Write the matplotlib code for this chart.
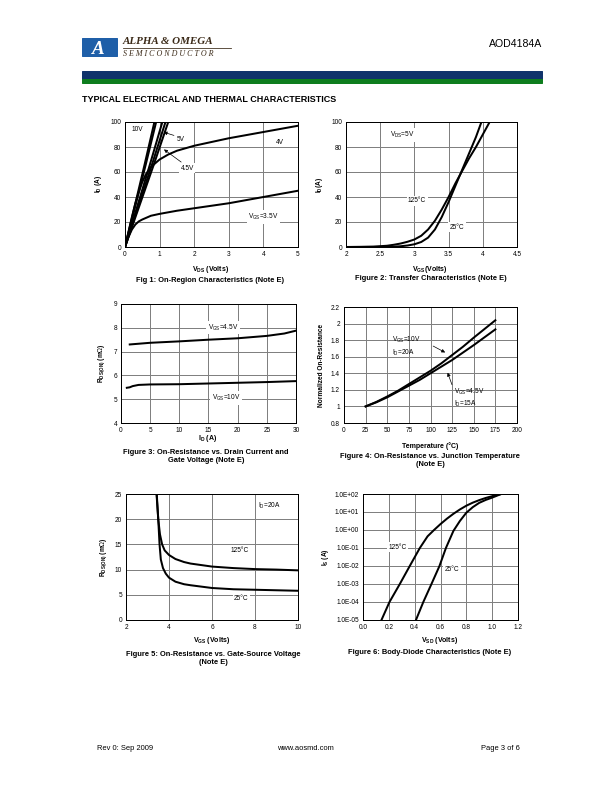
import matplotlib

matplotlib.use("Agg")
import matplotlib.pyplot as plt  # noqa: I001
from matplotlib.patches import Rectangle

plt.rcParams["font.family"] = ["Liberation Sans", "DejaVu Sans"]
plt.rcParams["mathtext.fontset"] = "custom"
plt.rcParams["mathtext.rm"] = "Liberation Sans"

W, H = 612, 792

# Fig 1: on-region characteristics
vds_steep = [0.0, 0.3, 0.6, 0.9]
id_steep = [0, 33, 66, 100]
steep_ends = [0.85, 0.90, 1.08, 1.17, 1.25]
vds_4v = [0, 0.1, 0.2, 0.3, 0.4, 0.5, 0.6, 0.75, 1.0, 1.25, 1.5, 2.0, 3.0, 4.0, 5.0]
id_4v = [0, 12, 24, 35, 44, 52, 58, 64, 70, 74, 77, 81, 87, 92, 97]
vds_35v = [0, 0.1, 0.2, 0.3, 0.4, 0.5, 0.75, 1.0, 1.5, 2.0, 3.0, 4.0, 5.0]
id_35v = [0, 8, 14, 18, 20.5, 22, 25, 26.5, 29, 31, 35, 40, 45]

# Fig 2: transfer characteristics
vgs_125 = [2.0, 2.2, 2.4, 2.6, 2.7, 2.8, 2.9, 3.0, 3.1, 3.2, 3.3, 3.4, 3.5,
           3.6, 3.7, 3.8, 3.9, 4.0, 4.1]
id_125 = [0, 0.1, 0.3, 1, 1.8, 2.8, 4.2, 6, 9, 14, 21, 30, 40, 51, 61, 71, 80, 90, 100]
vgs_25 = [2.0, 2.6, 2.7, 2.8, 2.9, 3.0, 3.1, 3.2, 3.3, 3.4, 3.5, 3.6, 3.7, 3.8, 3.9, 3.98]
id_25 = [0, 0.1, 0.3, 0.6, 1.2, 2.2, 4, 7.5, 14, 24, 36, 49, 62, 75, 88, 100]

# Fig 3: Rds(on) vs drain current
id_45 = [1.5, 5, 10, 15, 20, 25, 28, 30]
rds_45 = [7.3, 7.37, 7.43, 7.5, 7.56, 7.66, 7.76, 7.88]
id_10 = [1, 1.5, 2, 3, 5, 10, 15, 20, 25, 30]
rds_10 = [5.48, 5.5, 5.55, 5.6, 5.62, 5.63, 5.66, 5.69, 5.72, 5.76]

# Fig 4: normalized on-resistance vs temperature
temp = [25, 37.5, 50, 62.5, 75, 87.5, 100, 112.5, 125, 137.5, 150, 162.5, 175]
norm_10 = [1.0, 1.055, 1.12, 1.19, 1.27, 1.35, 1.43, 1.52, 1.62, 1.72, 1.83, 1.935, 2.04]
norm_45 = [1.0, 1.05, 1.11, 1.18, 1.25, 1.32, 1.40, 1.48, 1.56, 1.65, 1.74, 1.835, 1.93]

# Fig 5: Rds(on) vs gate-source voltage
vgs5_25 = [3.43, 3.5, 3.56, 3.62, 3.72, 3.85, 4.0, 4.3, 4.7, 5, 6, 7, 8, 9, 10]
rds5_25 = [25, 20, 15, 12, 10.3, 9.2, 8.4, 7.6, 7.1, 6.9, 6.35, 6.1, 6.0, 5.9, 5.8]
vgs5_125 = [3.42, 3.5, 3.58, 3.68, 3.8, 4.0, 4.3, 4.7, 5, 6, 7, 8, 9, 10]
rds5_125 = [25, 20, 17, 15, 13.8, 12.9, 12.1, 11.5, 11.2, 10.6, 10.3, 10.1, 10.0, 9.85]

# Fig 6: body-diode characteristics (log10 of Is)
vsd_125 = [0.143, 0.205, 0.285, 0.362, 0.44, 0.50, 0.55, 0.60, 0.65, 0.70, 0.75,
           0.80, 0.85, 0.90, 0.95, 1.00, 1.07]
logis_125 = [-5, -4, -3, -2, -1, -0.35, 0.0, 0.33, 0.63, 0.9, 1.14, 1.35, 1.52,
             1.66, 1.78, 1.88, 2.0]
vsd_25 = [0.41, 0.467, 0.53, 0.592, 0.642, 0.70, 0.75, 0.80, 0.85, 0.90, 0.95, 1.0, 1.07]
logis_25 = [-5, -4, -3, -2, -1, -0.05, 0.5, 0.96, 1.27, 1.51, 1.67, 1.8, 2.0]

LOG_TICKS = ["1.0E-05", "1.0E-04", "1.0E-03", "1.0E-02", "1.0E-01",
             "1.0E+00", "1.0E+01", "1.0E+02"]

fig = plt.figure(figsize=(W / 72, H / 72), dpi=72)


def ftext(x, y, s, **kw):
    kw.setdefault("fontsize", 7.5)
    kw.setdefault("ha", "center")
    kw.setdefault("va", "center")
    fig.text(x / W, 1 - y / H, s, **kw)


def make_axes(left, top, right, bottom, xlim, ylim, xticks, yticks,
              xlabels=None, ylabels=None, ylog=False):
    ax = fig.add_axes([left / W, 1 - bottom / H, (right - left) / W, (bottom - top) / H])
    if ylog:
        ax.set_yscale("log")
    ax.set_xlim(*xlim)
    ax.set_ylim(*ylim)
    ax.set_xticks(xticks)
    ax.set_yticks(yticks)
    ax.minorticks_off()
    if xlabels is not None:
        ax.set_xticklabels(xlabels)
    if ylabels is not None:
        ax.set_yticklabels(ylabels)
    ax.tick_params(length=0, labelsize=6.5, pad=4)
    ax.grid(True, color="#808080", linewidth=1)
    ax.set_axisbelow(True)
    for sp in ax.spines.values():
        sp.set_linewidth(1)
        sp.set_color("black")
    return ax


def label(ax, x, y, s, box=True, **kw):
    kw.setdefault("fontsize", 6.5)
    kw.setdefault("ha", "center")
    kw.setdefault("va", "center")
    bbox = dict(facecolor="white", edgecolor="none", pad=1.5) if box else None
    ax.text(x, y, s, bbox=bbox, zorder=5, **kw)


def arrow(ax, start, end):
    ax.annotate("", xy=end, xytext=start,
                arrowprops=dict(arrowstyle="-|>", color="black", lw=0.7,
                                mutation_scale=7), zorder=6)


LW = 2

# ---- header ----
fig.patches.append(Rectangle((82 / W, 1 - 56 / H), 35 / W, 18 / H,
                             transform=fig.transFigure, color="#1f5fa8"))
ftext(98, 49, "A", fontsize=19, fontstyle="italic", fontweight="bold",
      color="white", family="Liberation Serif")
ftext(123, 42, "ALPHA & OMEGA", fontsize=11, ha="left", fontweight="bold",
      fontstyle="italic", color="#3b2a18", family="Liberation Serif")
fig.add_artist(plt.Line2D([123 / W, 231 / W], [1 - 47.5 / H, 1 - 47.5 / H],
                          color="#3b2a18", lw=0.8))
ftext(123, 53.5, "S E M I C O N D U C T O R", fontsize=8, ha="left",
      fontstyle="italic", color="#3b2a18", family="Liberation Serif")
ftext(542, 44, "AOD4184A", fontsize=10.5, ha="right")
fig.patches.append(Rectangle((82 / W, 1 - 79 / H), 460 / W, 8 / H,
                             transform=fig.transFigure, color="#10336b"))
fig.patches.append(Rectangle((82 / W, 1 - 83 / H), 460 / W, 4 / H,
                             transform=fig.transFigure, color="#0e7d1e"))
ftext(82, 100, "TYPICAL ELECTRICAL AND THERMAL CHARACTERISTICS", fontsize=9,
      fontweight="bold", ha="left")

# ---- Fig 1 ----
ax1 = make_axes(125, 122, 298, 247, (0, 5), (0, 100), range(0, 6), range(0, 101, 20))
for end in steep_ends:
    scale = end / 0.9
    ax1.plot([v * scale for v in vds_steep], id_steep, color="black", lw=LW)
ax1.plot(vds_4v, id_4v, color="black", lw=LW)
ax1.plot(vds_35v, id_35v, color="black", lw=LW)
label(ax1, 0.35, 94, "10V")
label(ax1, 1.62, 86, "5V")
label(ax1, 1.8, 63, "4.5V")
label(ax1, 4.48, 84, "4V")
label(ax1, 4.0, 24, r"V$\mathregular{_{GS}}$=3.5V")
arrow(ax1, (1.47, 88.8), (1.06, 92.3))
arrow(ax1, (1.67, 67), (1.08, 79))
ax1.set_ylabel(r"I$\mathregular{_D}$ (A)", fontsize=6.5, fontweight="bold", labelpad=6)
ftext(211, 270, r"V$\mathregular{_{DS}}$ (Volts)", fontsize=7, fontweight="bold")
ftext(210, 281, "Fig 1: On-Region Characteristics (Note E)", fontweight="bold")

# ---- Fig 2 ----
ax2 = make_axes(346, 122, 517, 247, (2, 4.5), (0, 100),
                [2, 2.5, 3, 3.5, 4, 4.5], range(0, 101, 20),
                xlabels=["2", "2.5", "3", "3.5", "4", "4.5"])
ax2.plot(vgs_125, id_125, color="black", lw=LW)
ax2.plot(vgs_25, id_25, color="black", lw=LW)
label(ax2, 2.82, 89.6, r"V$\mathregular{_{DS}}$=5V")
label(ax2, 3.04, 37, "125°C")
label(ax2, 3.62, 15.7, "25°C")
ax2.set_ylabel(r"I$\mathregular{_D}$(A)", fontsize=6.5, fontweight="bold", labelpad=6)
ftext(430, 270, r"V$\mathregular{_{GS}}$(Volts)", fontsize=7, fontweight="bold")
ftext(431, 279, "Figure 2: Transfer Characteristics (Note E)", fontweight="bold")

# ---- Fig 3 ----
ax3 = make_axes(121, 304, 296, 423, (0, 30), (4, 9), range(0, 31, 5), range(4, 10))
ax3.plot(id_45, rds_45, color="black", lw=LW)
ax3.plot(id_10, rds_10, color="black", lw=LW)
label(ax3, 17.5, 8.0, r"V$\mathregular{_{GS}}$=4.5V")
label(ax3, 18, 5.05, r"V$\mathregular{_{GS}}$=10V")
ax3.set_ylabel(r"R$\mathregular{_{DS(ON)}}$ (m$\Omega$)", fontsize=6.5,
               fontweight="bold", labelpad=6)
ftext(208, 439, r"I$\mathregular{_D}$ (A)", fontsize=7, fontweight="bold")
ftext(206, 456, "Figure 3: On-Resistance vs. Drain Current and\nGate Voltage (Note E)",
      fontweight="bold", linespacing=1.2)

# ---- Fig 4 ----
ax4 = make_axes(344, 307, 517, 423, (0, 200), (0.8, 2.2), range(0, 201, 25),
                [0.8, 1.0, 1.2, 1.4, 1.6, 1.8, 2.0, 2.2],
                ylabels=["0.8", "1", "1.2", "1.4", "1.6", "1.8", "2", "2.2"])
ax4.plot(temp, norm_10, color="black", lw=LW)
ax4.plot(temp, norm_45, color="black", lw=LW)
label(ax4, 55, 1.86, "V$\\mathregular{_{GS}}$=10V\nI$\\mathregular{_D}$=20A", box=False,
      ha="left", va="top", linespacing=1.3)
label(ax4, 127, 1.24, "V$\\mathregular{_{GS}}$=4.5V\nI$\\mathregular{_D}$=15A", box=False,
      ha="left", va="top", linespacing=1.3)
arrow(ax4, (101, 1.74), (119, 1.64))
arrow(ax4, (125.6, 1.24), (119, 1.43))
ax4.set_ylabel("Normalized On-Resistance", fontsize=6.5, fontweight="bold", labelpad=6)
ftext(430, 446, "Temperature (°C)", fontsize=7, fontweight="bold")
ftext(430, 460, "Figure 4: On-Resistance vs. Junction Temperature\n(Note E)",
      fontweight="bold", linespacing=1.2)

# ---- Fig 5 ----
ax5 = make_axes(126, 494, 298, 620, (2, 10), (0, 25), range(2, 11, 2), range(0, 26, 5))
ax5.plot(vgs5_125, rds5_125, color="black", lw=LW)
ax5.plot(vgs5_25, rds5_25, color="black", lw=LW)
label(ax5, 8.69, 22.7, r"I$\mathregular{_D}$=20A")
label(ax5, 7.3, 13.7, "125°C")
label(ax5, 7.37, 4.3, "25°C")
ax5.set_ylabel(r"R$\mathregular{_{DS(ON)}}$ (m$\Omega$)", fontsize=6.5,
               fontweight="bold", labelpad=6)
ftext(212, 641, r"V$\mathregular{_{GS}}$ (Volts)", fontsize=7, fontweight="bold")
ftext(213, 658, "Figure 5: On-Resistance vs. Gate-Source Voltage\n(Note E)",
      fontweight="bold", linespacing=1.2)

# ---- Fig 6 ----
ax6 = make_axes(363, 494, 518, 620, (0, 1.2), (1e-5, 1e2),
                [0, 0.2, 0.4, 0.6, 0.8, 1.0, 1.2], [10.0 ** k for k in range(-5, 3)],
                xlabels=["0.0", "0.2", "0.4", "0.6", "0.8", "1.0", "1.2"],
                ylabels=LOG_TICKS, ylog=True)
ax6.plot(vsd_125, [10.0 ** v for v in logis_125], color="black", lw=LW)
ax6.plot(vsd_25, [10.0 ** v for v in logis_25], color="black", lw=LW)
label(ax6, 0.27, 10 ** -0.95, "125°C")
label(ax6, 0.69, 10 ** -2.2, "25°C")
ax6.set_ylabel(r"I$\mathregular{_S}$ (A)", fontsize=6.5, fontweight="bold", labelpad=4)
ftext(440, 641, r"V$\mathregular{_{SD}}$ (Volts)", fontsize=7, fontweight="bold")
ftext(430, 652, "Figure 6: Body-Diode Characteristics (Note E)", fontweight="bold")

# ---- footer ----
ftext(97, 748, "Rev 0: Sep 2009", fontsize=7.5, ha="left")
ftext(305, 748, "www.aosmd.com", fontsize=7.5)
ftext(520, 748, "Page 3 of 6", fontsize=7.5, ha="right")

fig.savefig("out.png", dpi=72)
